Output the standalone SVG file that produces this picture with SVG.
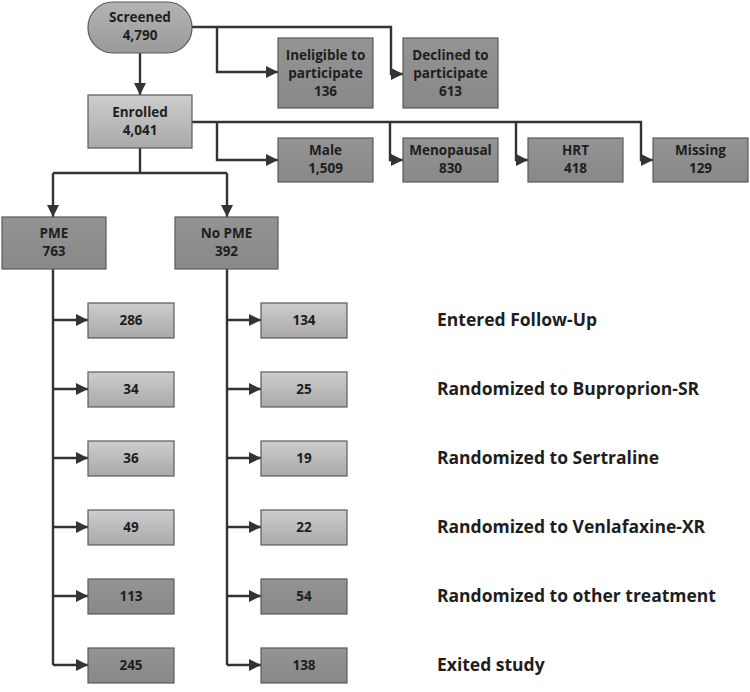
<svg xmlns="http://www.w3.org/2000/svg" width="750" height="692" viewBox="0 0 750 692">
<defs>
<linearGradient id="gl" x1="0" y1="0" x2="0" y2="1"><stop offset="0" stop-color="#cdcdcd"/><stop offset="1" stop-color="#a9a9a9"/></linearGradient>
<linearGradient id="gd" x1="0" y1="0" x2="0" y2="1"><stop offset="0" stop-color="#949494"/><stop offset="1" stop-color="#888888"/></linearGradient>
<linearGradient id="gm" x1="0" y1="0" x2="0" y2="1"><stop offset="0" stop-color="#b4b4b4"/><stop offset="1" stop-color="#9a9a9a"/></linearGradient>
<marker id="ar" markerUnits="userSpaceOnUse" markerWidth="12" markerHeight="12" refX="12" refY="6" orient="auto"><path d="M0,0 L12,6 L0,12 Z" fill="#333"/></marker>
<style>
.l rect{fill:url(#gl);stroke:#5a5a5a;stroke-width:1.2}
.d rect{fill:url(#gd);stroke:#5a5a5a;stroke-width:1.2}
text{font-family:"Open Sans","Liberation Sans",sans-serif;font-weight:700;fill:#1e1e1e}
.n text{font-size:13.5px;text-anchor:middle}
.lab{font-size:17.5px}
#connectors path{fill:none;stroke:#333;stroke-width:2.4}
.a{marker-end:url(#ar)}
</style>
</defs>
<g id="connectors">
<path class="a" d="M192,27 H391 V74 H403"/>
<path class="a" d="M217,27 V72 H278"/>
<path class="a" d="M140,53 V95"/>
<path class="a" d="M192,122 H641 V160 H653"/>
<path class="a" d="M217,122 V160 H278"/>
<path class="a" d="M390,122 V160 H403"/>
<path class="a" d="M516,122 V160 H528"/>
<path d="M140,148 V173 M53,173 H227"/>
<path class="a" d="M53,173 V217"/>
<path class="a" d="M227,173 V217"/>
<path d="M53,269 V665 M227,269 V665"/>
<path class="a" d="M53,320 H88"/><path class="a" d="M53,389 H88"/><path class="a" d="M53,458 H88"/><path class="a" d="M53,527 H88"/><path class="a" d="M53,596 H88"/><path class="a" d="M53,665 H88"/>
<path class="a" d="M227,320 H261"/><path class="a" d="M227,389 H261"/><path class="a" d="M227,458 H261"/><path class="a" d="M227,527 H261"/><path class="a" d="M227,596 H261"/><path class="a" d="M227,665 H261"/>
</g>
<g id="screened" class="n"><rect x="88" y="2" width="104" height="51" rx="25" fill="url(#gm)" stroke="#5a5a5a" stroke-width="1.2"/><text x="140" y="22">Screened</text><text x="140" y="40">4,790</text></g>
<g id="ineligible" class="n d"><rect x="278" y="38" width="95" height="70"/><text x="325.5" y="60">Ineligible to</text><text x="325.5" y="78">participate</text><text x="325.5" y="96">136</text></g>
<g id="declined" class="n d"><rect x="403" y="38" width="95" height="70"/><text x="450.5" y="60">Declined to</text><text x="450.5" y="78">participate</text><text x="450.5" y="96">613</text></g>
<g id="enrolled" class="n l"><rect x="88" y="95" width="104" height="53"/><text x="140" y="117">Enrolled</text><text x="140" y="135">4,041</text></g>
<g id="male" class="n d"><rect x="278" y="138" width="95" height="44"/><text x="325.5" y="155">Male</text><text x="325.5" y="173">1,509</text></g>
<g id="menopausal" class="n d"><rect x="403" y="138" width="95" height="44"/><text x="450.5" y="155">Menopausal</text><text x="450.5" y="173">830</text></g>
<g id="hrt" class="n d"><rect x="528" y="138" width="95" height="44"/><text x="575.5" y="155">HRT</text><text x="575.5" y="173">418</text></g>
<g id="missing" class="n d"><rect x="653" y="138" width="95" height="44"/><text x="700.5" y="155">Missing</text><text x="700.5" y="173">129</text></g>
<g id="pme" class="n d"><rect x="2" y="217" width="104" height="52"/><text x="54" y="238">PME</text><text x="54" y="256">763</text></g>
<g id="nopme" class="n d"><rect x="175" y="217" width="103" height="52"/><text x="226.5" y="238">No PME</text><text x="226.5" y="256">392</text></g>
<g id="pme-286" class="n l"><rect x="88" y="303" width="86" height="35"/><text x="131" y="325">286</text></g>
<g id="pme-34" class="n l"><rect x="88" y="372" width="86" height="35"/><text x="131" y="394">34</text></g>
<g id="pme-36" class="n l"><rect x="88" y="441" width="86" height="35"/><text x="131" y="463">36</text></g>
<g id="pme-49" class="n l"><rect x="88" y="510" width="86" height="35"/><text x="131" y="532">49</text></g>
<g id="pme-113" class="n d"><rect x="88" y="579" width="86" height="35"/><text x="131" y="601">113</text></g>
<g id="pme-245" class="n d"><rect x="88" y="648" width="86" height="35"/><text x="131" y="670">245</text></g>
<g id="nopme-134" class="n l"><rect x="261" y="303" width="86" height="35"/><text x="304" y="325">134</text></g>
<g id="nopme-25" class="n l"><rect x="261" y="372" width="86" height="35"/><text x="304" y="394">25</text></g>
<g id="nopme-19" class="n l"><rect x="261" y="441" width="86" height="35"/><text x="304" y="463">19</text></g>
<g id="nopme-22" class="n l"><rect x="261" y="510" width="86" height="35"/><text x="304" y="532">22</text></g>
<g id="nopme-54" class="n d"><rect x="261" y="579" width="86" height="35"/><text x="304" y="601">54</text></g>
<g id="nopme-138" class="n d"><rect x="261" y="648" width="86" height="35"/><text x="304" y="670">138</text></g>
<g id="labels">
<text class="lab" x="437" y="326">Entered Follow-Up</text>
<text class="lab" x="437" y="395">Randomized to Buproprion-SR</text>
<text class="lab" x="437" y="464">Randomized to Sertraline</text>
<text class="lab" x="437" y="533">Randomized to Venlafaxine-XR</text>
<text class="lab" x="437" y="602">Randomized to other treatment</text>
<text class="lab" x="437" y="671">Exited study</text>
</g>
</svg>
